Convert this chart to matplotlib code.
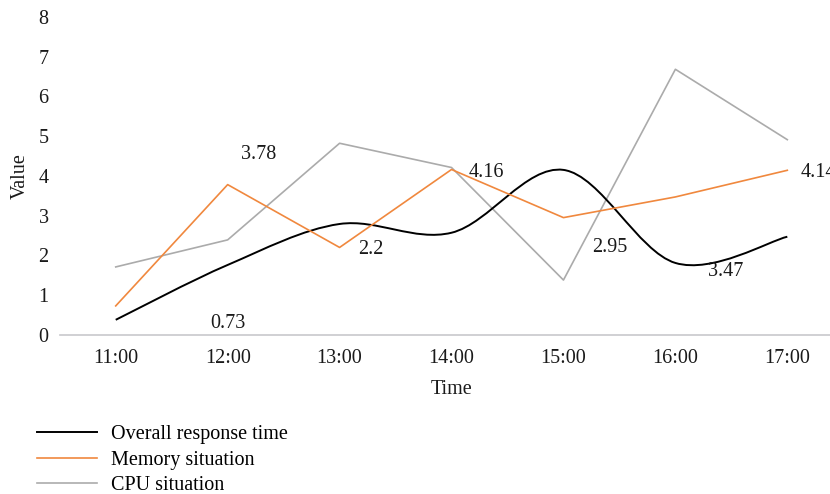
import numpy as np
import matplotlib
matplotlib.use("Agg")
import matplotlib.pyplot as plt
from matplotlib.path import Path
from matplotlib.patches import PathPatch
from matplotlib.lines import Line2D

categories = ["11:00", "12:00", "13:00", "14:00", "15:00", "16:00", "17:00"]
overall = [0.38, 1.76, 2.79, 2.57, 4.15, 1.81, 2.47]
memory = [0.73, 3.78, 2.2, 4.16, 2.95, 3.47, 4.14]
cpu = [1.71, 2.39, 4.82, 4.21, 1.38, 6.68, 4.91]
label_texts = ["0.73", "3.78", "2.2", "4.16", "2.95", "3.47", "4.14"]
label_x = [1.0, 1.28, 2.28, 3.31, 4.41, 5.45, 6.28]
label_y = [0.3, 4.53, 2.16, 4.08, 2.19, 1.6, 4.08]

plt.rcParams['font.family'] = ['Liberation Serif', 'DejaVu Serif']
fs = 14.5

fig = plt.figure(figsize=(8.3, 4.94), dpi=100)
ax = fig.add_axes([0.072, 0.322, 0.944, 0.644])

x = np.arange(len(categories))

# smooth (Catmull-Rom style Bezier) path for overall response
def smooth_path(xs, ys):
    pts = np.column_stack([xs, ys]).astype(float)
    n = len(pts)
    verts = [pts[0]]
    codes = [Path.MOVETO]
    for i in range(n - 1):
        p0 = pts[i - 1] if i > 0 else pts[i]
        p1 = pts[i]
        p2 = pts[i + 1]
        p3 = pts[i + 2] if i + 2 < n else pts[i + 1]
        c1 = p1 + (p2 - p0) / 6.0
        c2 = p2 - (p3 - p1) / 6.0
        verts += [c1, c2, p2]
        codes += [Path.CURVE4] * 3
    return Path(verts, codes)

ax.add_patch(PathPatch(smooth_path(x, overall), facecolor='none', edgecolor='black', lw=1.4, zorder=3))
ax.plot(x, memory, color='#F0883E', lw=1.2, zorder=3)
ax.plot(x, cpu, color='#ABABAB', lw=1.2, zorder=2)

for t, lx, ly in zip(label_texts, label_x, label_y):
    ax.text(lx, ly, t, ha='center', va='center', fontsize=fs, color='#1a1a1a', clip_on=False)

ax.set_xlim(-0.5, 6.5)
ax.set_ylim(0, 8)
ax.set_xticks(x)
ax.set_xticklabels(categories)
ax.set_yticks(range(0, 9))
for s in ['top', 'right', 'left']:
    ax.spines[s].set_visible(False)
ax.spines['bottom'].set_color('#C8C8CC')
ax.spines['bottom'].set_linewidth(1.2)
ax.tick_params(axis='both', length=0, labelsize=fs, colors='#1a1a1a')
ax.tick_params(axis='x', pad=10)
ax.tick_params(axis='y', pad=8)
ax.set_xlabel("Time", fontsize=fs, color='#1a1a1a', labelpad=9)
ax.set_ylabel("Value", fontsize=fs, color='#1a1a1a', labelpad=6)

handles = [Line2D([], [], color='black', lw=1.4),
           Line2D([], [], color='#F0883E', lw=1.2),
           Line2D([], [], color='#ABABAB', lw=1.2)]
fig.legend(handles, ["Overall response time", "Memory situation", "CPU situation"],
           loc='upper left', bbox_to_anchor=(0.045, 0.14),
           frameon=False, fontsize=fs, handlelength=2.95, handletextpad=0.7,
           labelspacing=0.33, borderpad=0, borderaxespad=0)

fig.savefig("out.png", dpi=100)
